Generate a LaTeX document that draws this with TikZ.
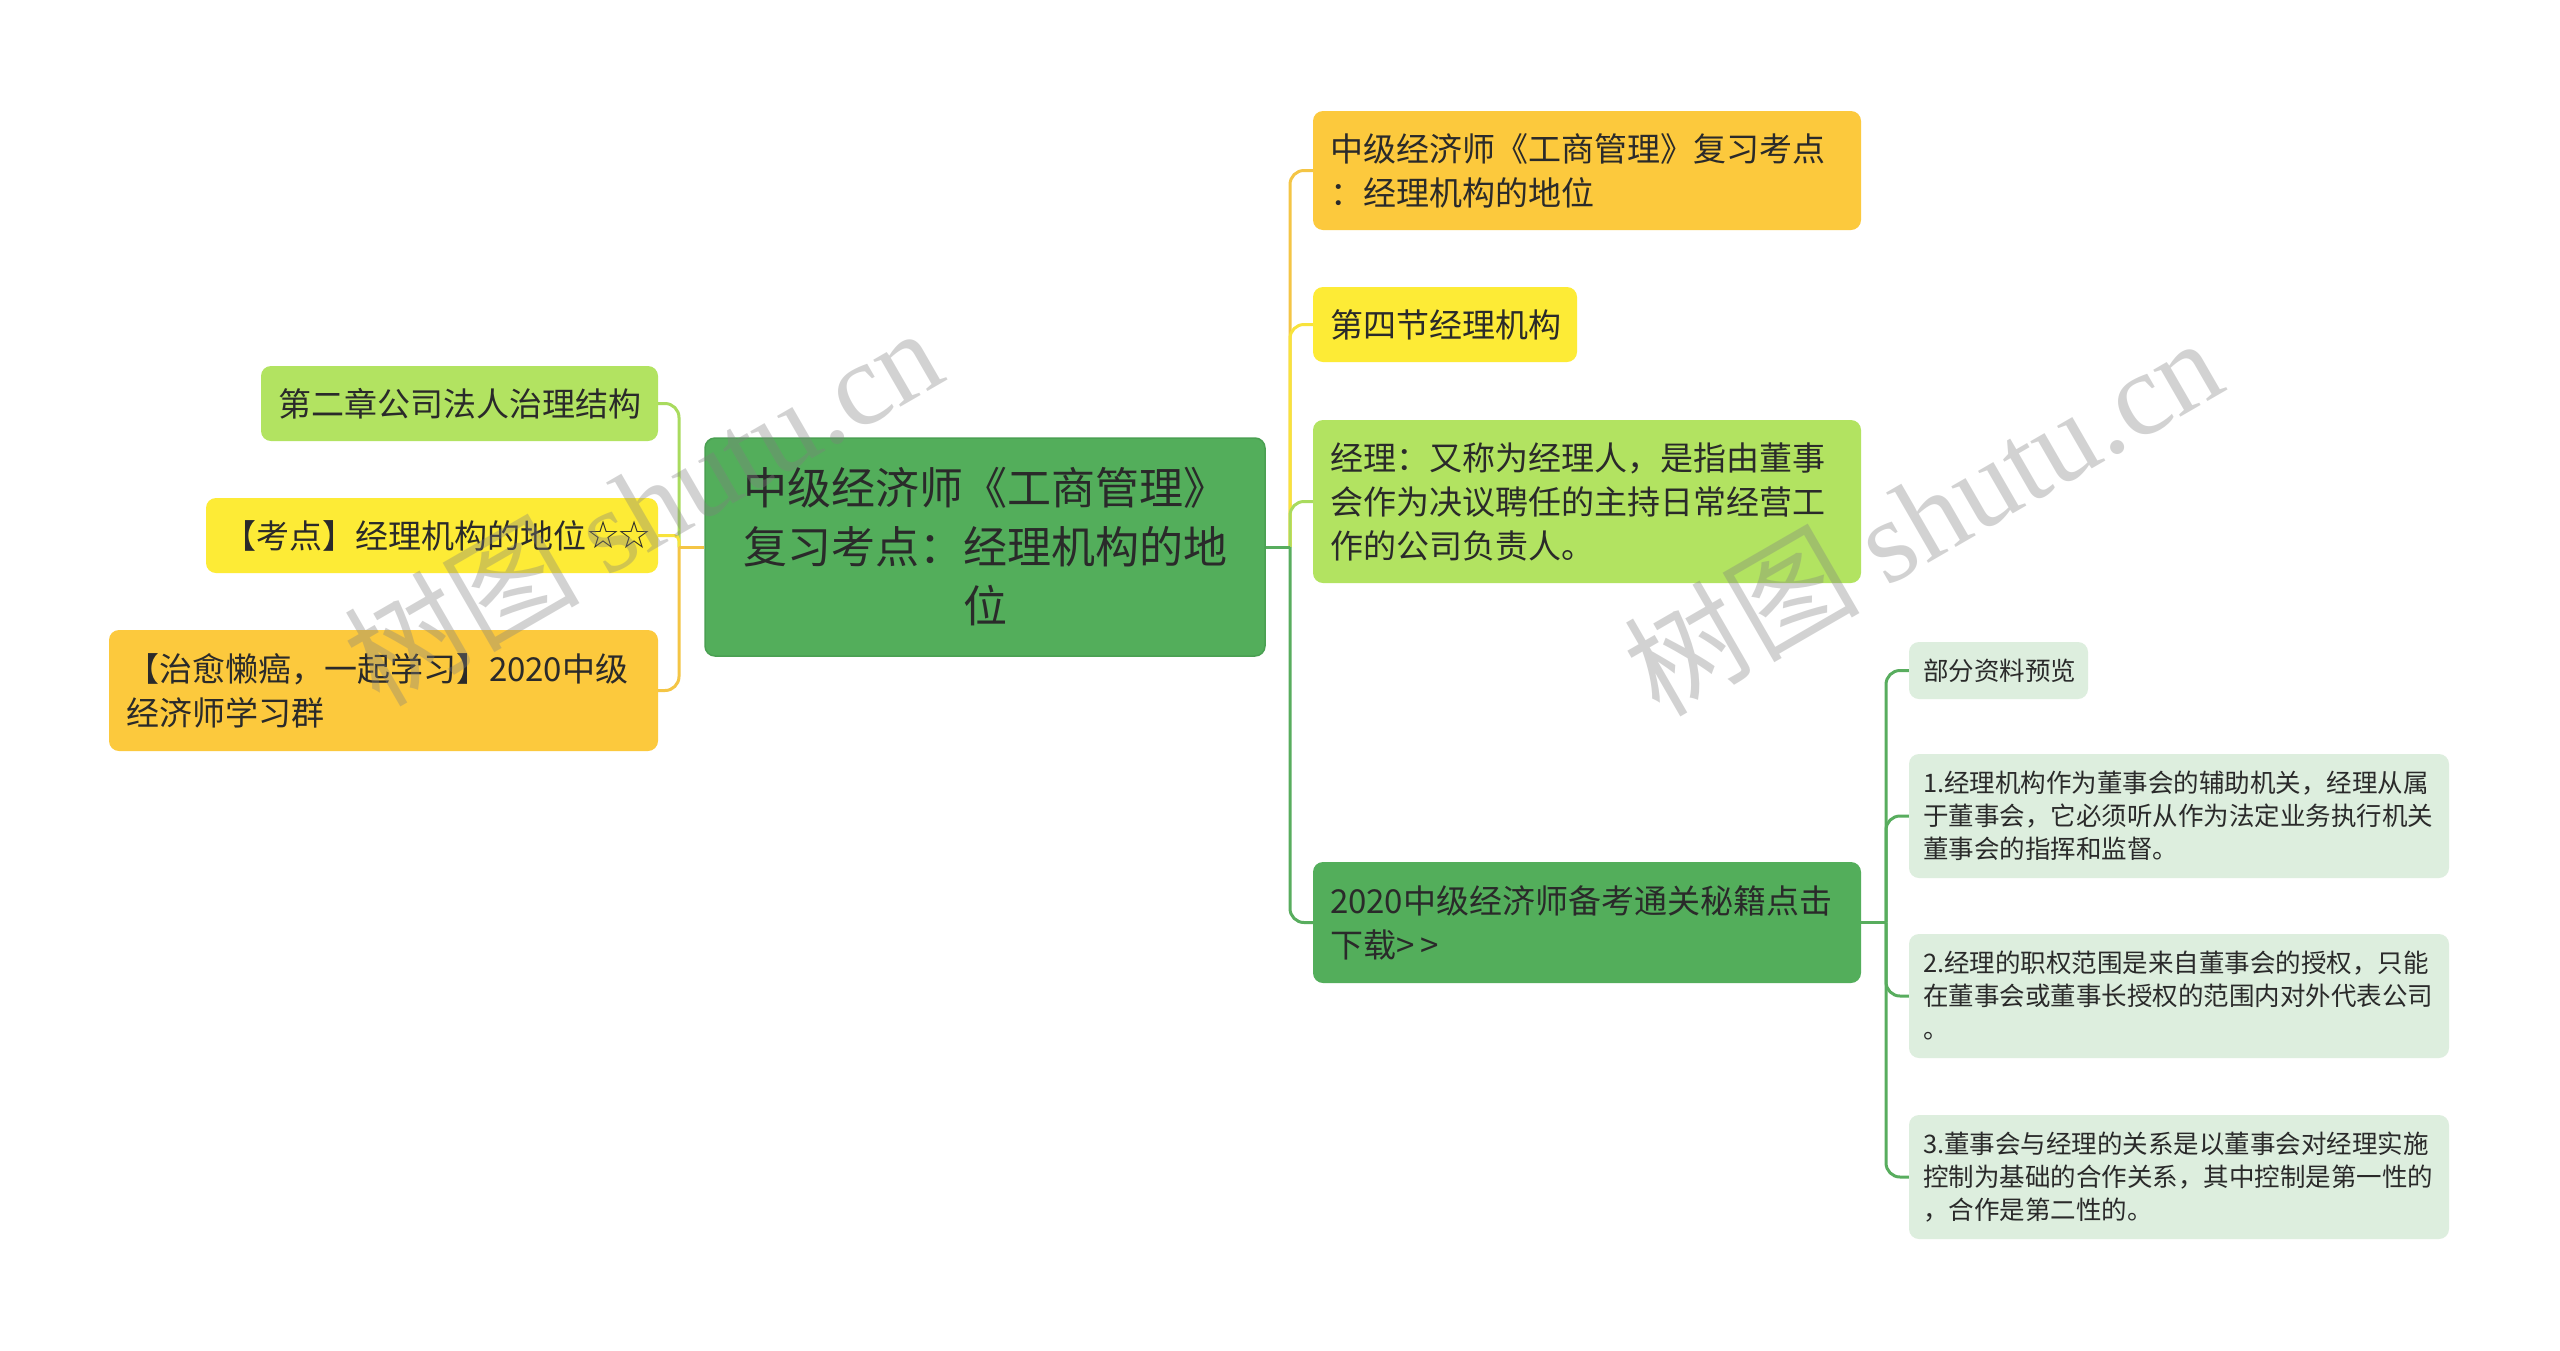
\documentclass[tikz,border=0pt]{standalone}
\usepackage{fontspec}
\setmainfont{Noto Sans CJK SC}
\newfontfamily\symf{DejaVu Sans}
\newfontfamily\wmserif{Liberation Serif}
\definecolor{cGreen}{HTML}{53AE5B}
\definecolor{cGreenD}{HTML}{4AA052}
\definecolor{cLGreen}{HTML}{B2E361}
\definecolor{cYellow}{HTML}{FDEB36}
\definecolor{cOrange}{HTML}{FCC93D}
\definecolor{cPale}{HTML}{DDEEDE}
\definecolor{lOrange}{HTML}{F4C545}
\definecolor{lYellow}{HTML}{F8E33C}
\definecolor{lLGreen}{HTML}{A9DB5E}
\definecolor{lGreen}{HTML}{58AD5E}
\definecolor{txt}{HTML}{2A2A2A}
\begin{document}
\begin{tikzpicture}[x=1pt,y=-1pt,
  box/.style={rounded corners=10pt, inner ysep=0pt, align=left, text=txt, anchor=center},
  lvlone/.style={box, font=\fontsize{33}{44}\selectfont, inner xsep=17pt},
  lvltwo/.style={box, font=\fontsize{25.5}{33}\selectfont, inner xsep=14pt},
  conn/.style={line width=3pt, rounded corners=14pt},
  wm/.style={text=gray, opacity=0.35, font=\fontsize{118}{120}\selectfont, inner sep=0pt}]
\useasboundingbox (0,0) rectangle (2560,1350);
\clip (0,0) rectangle (2560,1350);
\fill[white] (0,0) rectangle (2560,1350);

% root
\node[box, fill=cGreen, draw=cGreenD, line width=1.5pt, font=\fontsize{44}{59}\selectfont,
  align=center, text width=520pt, inner xsep=20pt, minimum height=218pt] (root) at (985,547)
  {中级经济师《工商管理》\\复习考点：经理机构的地\\位};

% left children
\node[lvlone, fill=cLGreen, text width=363pt, minimum height=75pt] (L1) at (459.5,403.5)
  {第二章公司法人治理结构};
\node[lvlone, fill=cYellow, text width=418pt, minimum height=75pt] (L2) at (432,535.5)
  {【考点】经理机构的地位{\symf\fontsize{38}{40}\selectfont ☆\kern-0.08em☆}};
\node[lvlone, fill=cOrange, text width=515pt, minimum height=121pt] (L3) at (383.5,690.5)
  {【治愈懒癌，一起学习】2020中级\\经济师学习群};

% right children
\node[lvlone, fill=cOrange, text width=514pt, minimum height=119pt] (A) at (1587,170.5)
  {中级经济师《工商管理》复习考点\\：经理机构的地位};
\node[lvlone, fill=cYellow, text width=230pt, minimum height=75pt] (B) at (1445,324.5)
  {第四节经理机构};
\node[lvlone, fill=cLGreen, text width=514pt, minimum height=163pt] (C) at (1587,501.5)
  {经理：又称为经理人，是指由董事\\会作为决议聘任的主持日常经营工\\作的公司负责人。};
\node[lvlone, fill=cGreen, text width=514pt, minimum height=121pt] (D) at (1587,922.5)
  {2020中级经济师备考通关秘籍点击\\下载>{\kern0.2em}>};

% D children
\node[lvltwo, fill=cPale, text width=151pt, minimum height=57pt] (E) at (1998.5,670.5)
  {部分资料预览};
\node[lvltwo, fill=cPale, text width=512pt, minimum height=124pt] (F) at (2179,816)
  {1.经理机构作为董事会的辅助机关，经理从属\\于董事会，它必须听从作为法定业务执行机关\\董事会的指挥和监督。};
\node[lvltwo, fill=cPale, text width=512pt, minimum height=124pt] (G) at (2179,996)
  {2.经理的职权范围是来自董事会的授权，只能\\在董事会或董事长授权的范围内对外代表公司\\。};
\node[lvltwo, fill=cPale, text width=512pt, minimum height=124pt] (H) at (2179,1177)
  {3.董事会与经理的关系是以董事会对经理实施\\控制为基础的合作关系，其中控制是第一性的\\，合作是第二性的。};

% junctions
\coordinate (lj) at (679,547);
\coordinate (rj) at (1290,547);
\coordinate (dj) at (1886,922.5);

% left connectors
\draw[conn, lLGreen] (lj) |- (L1.east);
\draw[conn, lYellow, rounded corners=5pt] (lj) |- (L2.east);
\draw[conn, lOrange] (lj) |- (L3.east);
\draw[conn, lOrange] (root.west) -- (lj);

% right connectors
\draw[conn, lOrange] (rj) |- (A.west);
\draw[conn, lYellow] (rj) |- (B.west);
\draw[conn, lLGreen] (rj) |- (C.west);
\draw[conn, lGreen] (rj) |- (D.west);
\draw[conn, lGreen] (root.east) -- (rj);

% D children connectors
\draw[conn, lGreen] (D.east) -- (dj);
\draw[conn, lGreen] (dj) |- (E.west);
\draw[conn, lGreen] (dj) |- (F.west);
\draw[conn, lGreen] (dj) |- (G.west);
\draw[conn, lGreen] (dj) |- (H.west);

% watermarks
\node[wm, rotate=30] (w1) at (642,505) {树图 {\wmserif shutu.cn}};
\node[wm, rotate=30] (w2) at (1922,515) {树图 {\wmserif shutu.cn}};
\node[wm, rotate=30] (w3) at (661,1520) {树图 {\wmserif shutu.cn}};
\node[wm, rotate=30] (w4) at (1941,1520) {树图 {\wmserif shutu.cn}};
\end{tikzpicture}
\end{document}
